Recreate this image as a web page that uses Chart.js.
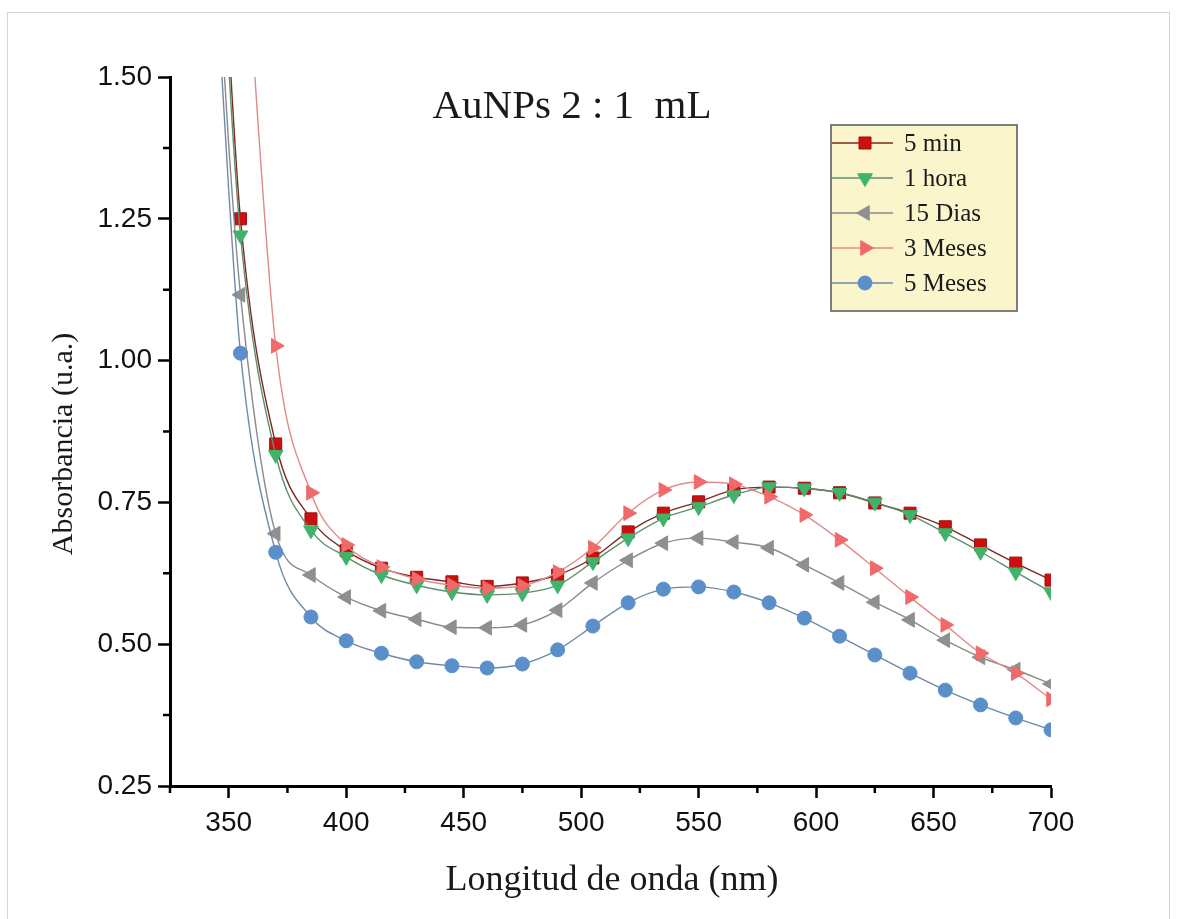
<!DOCTYPE html>
<html>
<head>
<meta charset="utf-8">
<script src="https://cdn.jsdelivr.net/npm/chart.js@4.4.1/dist/chart.umd.min.js"></script>
<style>
  html, body { margin: 0; padding: 0; background: #ffffff; }
  #wrap { position: relative; width: 1177px; height: 919px; }
  canvas { display: block; }
</style>
</head>
<body>
<div id="wrap"><canvas id="c" width="1177" height="919"></canvas></div>
<script>
// ---------- data ----------
const chartTitle = 'AuNPs 2 : 1  mL';
const xAxisTitle = 'Longitud de onda (nm)';
const yAxisTitle = 'Absorbancia (u.a.)';

// wavelengths (nm); the first two points lie above the visible range (no markers)
const wavelengths = [345, 350, 355, 370, 385, 400, 415, 430, 445, 460, 475, 490, 505, 520,
                     535, 550, 565, 580, 595, 610, 625, 640, 655, 670, 685, 700];

const seriesNames = ['5 min', '1 hora', '15 Dias', '3 Meses', '5 Meses'];

const abs5min   = [2.00, 1.57, 1.250, 0.853, 0.721, 0.665, 0.634, 0.618, 0.610, 0.602, 0.608, 0.622, 0.652,
                   0.698, 0.731, 0.751, 0.772, 0.777, 0.775, 0.767, 0.749, 0.731, 0.707, 0.675, 0.643, 0.613];
const abs1hora  = [1.95, 1.52, 1.221, 0.834, 0.701, 0.654, 0.622, 0.604, 0.592, 0.587, 0.590, 0.604, 0.645,
                   0.687, 0.722, 0.742, 0.763, 0.777, 0.775, 0.767, 0.750, 0.728, 0.696, 0.663, 0.627, 0.592];
const abs15dias = [1.72, 1.38, 1.116, 0.695, 0.622, 0.583, 0.559, 0.544, 0.530, 0.529, 0.534, 0.560, 0.608,
                   0.648, 0.678, 0.687, 0.680, 0.670, 0.640, 0.608, 0.574, 0.543, 0.507, 0.477, 0.455, 0.430];
const abs3meses = [2.30, 2.05, 1.850, 1.026, 0.767, 0.675, 0.636, 0.615, 0.604, 0.599, 0.603, 0.627, 0.670,
                   0.731, 0.772, 0.786, 0.782, 0.760, 0.728, 0.684, 0.634, 0.583, 0.534, 0.484, 0.449, 0.403];
const abs5meses = [1.65, 1.30, 1.013, 0.662, 0.548, 0.506, 0.484, 0.469, 0.462, 0.458, 0.465, 0.490, 0.532,
                   0.573, 0.597, 0.601, 0.592, 0.573, 0.546, 0.514, 0.481, 0.449, 0.419, 0.393, 0.370, 0.349];

const xTickValues = [350, 400, 450, 500, 550, 600, 650, 700];
const xMinorTicks = [325, 375, 425, 475, 525, 575, 625, 675];
const yTickValues = [0.25, 0.50, 0.75, 1.00, 1.25, 1.50];
const yMinorTicks = [0.375, 0.625, 0.875, 1.125, 1.375];

// ---------- styles ----------
const styles = [
  { line: '#7a2a22', fill: '#cc1010', stroke: '#a01010', shape: 'rect',     rot: 0,   r: 8.5 },
  { line: '#5d8f6e', fill: '#3fb36a', stroke: '#3fb36a', shape: 'triangle', rot: 180, r: 8.5 },
  { line: '#8a8a8a', fill: '#8f8f8f', stroke: '#8f8f8f', shape: 'triangle', rot: -90, r: 8.5 },
  { line: '#e28a8a', fill: '#f06a6a', stroke: '#f06a6a', shape: 'triangle', rot: 90,  r: 8.5 },
  { line: '#6f8aa8', fill: '#5b8fc9', stroke: '#5b8fc9', shape: 'circle',   rot: 0,   r: 7 }
];
const seriesValues = [abs5min, abs1hora, abs15dias, abs3meses, abs5meses];

const datasets = seriesValues.map((vals, i) => ({
  label: seriesNames[i],
  data: wavelengths.map((w, k) => ({ x: w, y: vals[k] })),
  borderColor: styles[i].line,
  borderWidth: 1.4,
  backgroundColor: styles[i].fill,
  pointBackgroundColor: styles[i].fill,
  pointBorderColor: styles[i].stroke,
  pointBorderWidth: 1,
  pointStyle: styles[i].shape,
  pointRotation: styles[i].rot,
  pointRadius: (ctx) => ctx.dataIndex < 2 ? 0 : styles[i].r,
  pointHoverRadius: (ctx) => ctx.dataIndex < 2 ? 0 : styles[i].r,
  cubicInterpolationMode: 'monotone',
  order: 4 - i
}));

const SERIF = '"Liberation Serif", "Times New Roman", serif';
const SANS = '"Liberation Sans", Arial, sans-serif';

// ---------- plugins ----------
const decor = {
  id: 'decor',
  beforeDraw(chart) {
    const ctx = chart.ctx;
    ctx.save();
    ctx.fillStyle = '#ffffff';
    ctx.fillRect(0, 0, chart.width, chart.height);
    ctx.strokeStyle = '#d4d4d4';
    ctx.lineWidth = 1;
    ctx.strokeRect(7.5, 12.5, 1162, 920);
    ctx.restore();
  },
  afterDraw(chart) {
    const ctx = chart.ctx;
    const xs = chart.scales.x, ys = chart.scales.y;
    const area = chart.chartArea;
    ctx.save();
    // minor ticks
    ctx.strokeStyle = '#000';
    ctx.lineWidth = 2.5;
    ctx.beginPath();
    xMinorTicks.forEach(v => {
      const px = xs.getPixelForValue(v);
      ctx.moveTo(px, area.bottom);
      ctx.lineTo(px, area.bottom + 7);
    });
    yMinorTicks.forEach(v => {
      const py = ys.getPixelForValue(v);
      ctx.moveTo(area.left, py);
      ctx.lineTo(area.left - 7, py);
    });
    ctx.stroke();

    // chart title
    ctx.fillStyle = '#1a1a1a';
    ctx.font = '41px ' + SERIF;
    ctx.textAlign = 'center';
    ctx.textBaseline = 'alphabetic';
    ctx.fillText(chartTitle, 572, 118);

    // axis titles
    ctx.font = '36px ' + SERIF;
    ctx.fillText(xAxisTitle, 612, 890);
    ctx.save();
    ctx.translate(72, 444);
    ctx.rotate(-Math.PI / 2);
    ctx.font = '30px ' + SERIF;
    ctx.fillText(yAxisTitle, 0, 0);
    ctx.restore();

    // legend
    const bx = 831, by = 125, bw = 186, bh = 186;
    ctx.fillStyle = '#fbf5cb';
    ctx.fillRect(bx, by, bw, bh);
    ctx.strokeStyle = '#555555';
    ctx.lineWidth = 1.5;
    ctx.strokeRect(bx, by, bw, bh);
    ctx.font = '25px ' + SERIF;
    ctx.textAlign = 'left';
    ctx.textBaseline = 'middle';
    seriesNames.forEach((name, i) => {
      const y = 143 + i * 35;
      ctx.strokeStyle = styles[i].line;
      ctx.lineWidth = 1.4;
      ctx.beginPath();
      ctx.moveTo(bx + 1, y);
      ctx.lineTo(893, y);
      ctx.stroke();
      ctx.fillStyle = styles[i].fill;
      ctx.strokeStyle = styles[i].stroke;
      ctx.lineWidth = 1;
      Chart.helpers.drawPoint(ctx, {
        pointStyle: styles[i].shape, rotation: styles[i].rot,
        radius: styles[i].r, borderWidth: 1
      }, 865, y);
      ctx.fillStyle = '#1a1a1a';
      ctx.fillText(name, 904, y + 1);
    });
    ctx.restore();
  }
};

new Chart(document.getElementById('c'), {
  type: 'line',
  data: { datasets },
  plugins: [decor],
  options: {
    responsive: false,
    animation: false,
    events: [],
    layout: { padding: { left: 0, top: 77, right: 126, bottom: 0 } },
    plugins: { legend: { display: false }, tooltip: { enabled: false }, title: { display: false } },
    scales: {
      x: {
        type: 'linear',
        min: 325, max: 700,
        afterBuildTicks: (s) => { s.ticks = xTickValues.map(v => ({ value: v })); },
        afterFit: (s) => { s.height = 133; },
        border: { display: true, color: '#000', width: 3 },
        grid: { drawOnChartArea: false, drawTicks: true, tickLength: 12, tickColor: '#000', tickWidth: 2.5 },
        ticks: { color: '#111111', font: { family: SANS, size: 28 }, padding: 8, maxRotation: 0,
                 callback: (v) => String(v) }
      },
      y: {
        type: 'linear',
        min: 0.25, max: 1.5,
        afterBuildTicks: (s) => { s.ticks = yTickValues.map(v => ({ value: v })); },
        afterFit: (s) => { s.width = 170; },
        border: { display: true, color: '#000', width: 3 },
        grid: { drawOnChartArea: false, drawTicks: true, tickLength: 12, tickColor: '#000', tickWidth: 2.5 },
        ticks: { color: '#111111', font: { family: SANS, size: 28 }, padding: 6,
                 callback: (v) => Number(v).toFixed(2) }
      }
    }
  }
});
</script>
</body>
</html>
